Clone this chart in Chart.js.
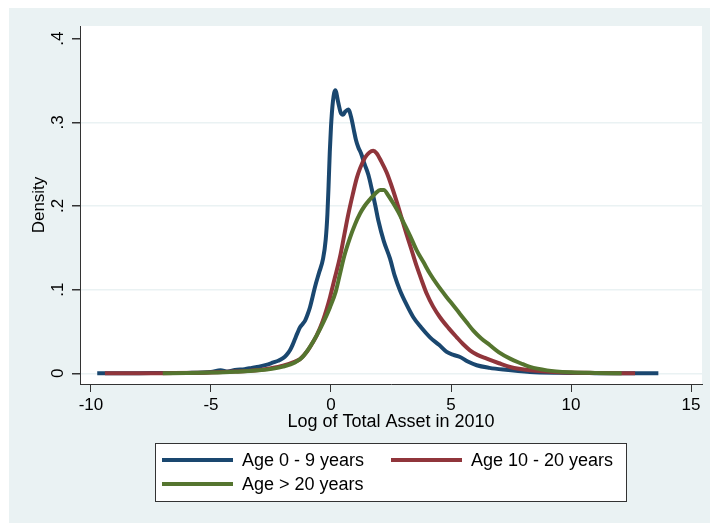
<!DOCTYPE html>
<html>
<head>
<meta charset="utf-8">
<script src="https://cdn.jsdelivr.net/npm/chart.js@4"></script>
<style>
  html, body { margin: 0; padding: 0; background: #ffffff; }
  canvas { display: block; }
</style>
</head>
<body>
<canvas id="chart" width="710" height="523"></canvas>
<script>
// series names for the legend
const seriesNames = ['Age 0 - 9 years', 'Age 10 - 20 years', 'Age > 20 years'];
const seriesColors = ['#1A476F', '#90353B', '#55752F'];

// Age 0 - 9 years
const xYoung = [-9.74, -8, -6, -5, -4.6, -4.3, -4.0, -3.6, -3.3, -3.0, -2.7, -2.4, -2.2, -2.0, -1.85, -1.71, -1.6, -1.5, -1.4, -1.29, -1.18, -1.08, -0.98, -0.875, -0.77, -0.67, -0.5, -0.33, -0.22, -0.15, -0.1, -0.05, 0.0, 0.08, 0.18, 0.3, 0.4, 0.5, 0.6, 0.72, 0.85, 0.95, 1.04, 1.14, 1.25, 1.4, 1.56, 1.7, 1.85, 1.97, 2.2, 2.46, 2.65, 2.875, 3.15, 3.43, 3.75, 4.125, 4.5, 4.82, 5.1, 5.375, 5.7, 6.07, 6.6, 7.18, 8.29, 9.5, 11, 13.64];
const yYoung = [0, 0.0002, 0.0005, 0.0015, 0.0035, 0.002, 0.004, 0.005, 0.0065, 0.008, 0.010, 0.013, 0.015, 0.018, 0.022, 0.0275, 0.034, 0.041, 0.048, 0.055, 0.059, 0.063, 0.070, 0.079, 0.091, 0.103, 0.12, 0.137, 0.16, 0.19, 0.225, 0.265, 0.295, 0.325, 0.3385, 0.324, 0.312, 0.309, 0.313, 0.3155, 0.305, 0.291, 0.279, 0.270, 0.263, 0.25, 0.237, 0.22, 0.2, 0.183, 0.158, 0.137, 0.117, 0.099, 0.082, 0.067, 0.055, 0.043, 0.034, 0.0255, 0.022, 0.0195, 0.014, 0.0096, 0.0065, 0.0044, 0.0016, 0.0006, 0.0002, 0];

// Age 10 - 20 years
const xMid = [-9.42, -7.05, -5, -4.0, -3.0, -2.5, -2.0, -1.5, -1.29, -1.0, -0.8, -0.6, -0.35, -0.2, -0.04, 0.15, 0.375, 0.55, 0.72, 0.9, 1.07, 1.21, 1.42, 1.6, 1.76, 1.9, 2.1, 2.32, 2.5, 2.74, 2.95, 3.15, 3.35, 3.57, 3.78, 3.99, 4.25, 4.54, 4.9, 5.24, 5.5, 5.79, 6.1, 6.49, 7.0, 7.46, 8.29, 9.5, 11, 12.67];
const yMid = [0, 0.0002, 0.0008, 0.002, 0.004, 0.006, 0.009, 0.014, 0.017, 0.026, 0.035, 0.045, 0.062, 0.075, 0.091, 0.113, 0.139, 0.165, 0.19, 0.213, 0.233, 0.245, 0.258, 0.264, 0.266, 0.263, 0.253, 0.24, 0.226, 0.205, 0.185, 0.166, 0.148, 0.128, 0.111, 0.095, 0.08, 0.067, 0.054, 0.043, 0.035, 0.0275, 0.022, 0.0175, 0.012, 0.0076, 0.0036, 0.0012, 0.0004, 0];

// Age > 20 years
const xOld = [-7.01, -6, -5, -4, -3, -2.4, -2.0, -1.5, -1.2, -0.875, -0.6, -0.3, -0.04, 0.2, 0.375, 0.55, 0.79, 1.0, 1.21, 1.4, 1.625, 1.85, 2.05, 2.2, 2.4, 2.6, 2.8, 3.01, 3.3, 3.57, 3.85, 4.125, 4.45, 4.82, 5.1, 5.375, 5.65, 5.93, 6.25, 6.625, 7.0, 7.46, 7.9, 8.29, 9, 10, 11, 12.11];
const yOld = [0, 0.0003, 0.0008, 0.0018, 0.0035, 0.0056, 0.008, 0.013, 0.019, 0.0315, 0.045, 0.062, 0.079, 0.098, 0.119, 0.14, 0.162, 0.178, 0.191, 0.2, 0.208, 0.215, 0.219, 0.219, 0.212, 0.203, 0.193, 0.181, 0.164, 0.147, 0.133, 0.119, 0.105, 0.091, 0.081, 0.071, 0.061, 0.051, 0.042, 0.0335, 0.025, 0.0175, 0.012, 0.0076, 0.0035, 0.0012, 0.0004, 0];

const xTicks = [-10, -5, 0, 5, 10, 15];
const yTicks = [0, 0.1, 0.2, 0.3, 0.4];
const yTickLabels = ['0', '.1', '.2', '.3', '.4'];

const FONT = 'Liberation Sans, Arial, sans-serif';
const BG = '#EAF2F3';
const AXIS = '#333333';

function pts(xs, ys) {
  return xs.map((x, i) => ({ x: x, y: ys[i] }));
}

// drawn in reverse order, so green ends up on top
const seriesData = [pts(xYoung, yYoung), pts(xMid, yMid), pts(xOld, yOld)];
let datasets = [];
for (let i = 2; i >= 0; i--) {
  datasets.push({
    label: seriesNames[i],
    data: seriesData[i],
    borderColor: seriesColors[i],
    backgroundColor: seriesColors[i],
    borderWidth: 4,
    pointRadius: 0,
    fill: false,
    cubicInterpolationMode: 'monotone'
  });
}

const backgroundPlugin = {
  id: 'stataBg',
  beforeDraw(chart) {
    const c = chart.ctx;
    const a = chart.chartArea;
    c.save();
    c.fillStyle = '#ffffff';
    c.fillRect(0, 0, chart.width, chart.height);
    c.fillStyle = BG;
    c.fillRect(9, 8, chart.width - 9, chart.height - 8);
    c.fillStyle = '#ffffff';
    c.fillRect(a.left, a.top, a.right - a.left, a.bottom - a.top);
    c.restore();
  }
};

const legendPlugin = {
  id: 'boxLegend',
  afterDraw(chart) {
    const c = chart.ctx;
    c.save();
    c.fillStyle = '#ffffff';
    c.fillRect(155.5, 443.5, 471, 58);
    c.strokeStyle = AXIS;
    c.lineWidth = 1;
    c.strokeRect(155.5, 443.5, 471, 58);
    const slots = [[162, 460], [391, 460], [162, 484]];
    c.font = '18px ' + FONT;
    c.textBaseline = 'middle';
    c.textAlign = 'left';
    for (let i = 0; i < seriesNames.length; i++) {
      const [sx, sy] = slots[i];
      c.strokeStyle = seriesColors[i];
      c.lineWidth = 4;
      c.beginPath();
      c.moveTo(sx, sy);
      c.lineTo(sx + 71, sy);
      c.stroke();
      c.fillStyle = '#000000';
      c.fillText(seriesNames[i], sx + 80, sy + 1);
    }
    c.restore();
  }
};

new Chart(document.getElementById('chart').getContext('2d'), {
  type: 'line',
  data: { datasets: datasets },
  plugins: [backgroundPlugin, legendPlugin],
  options: {
    responsive: false,
    animation: false,
    layout: { padding: { left: 9, top: 26, right: 8, bottom: 90 } },
    plugins: {
      legend: { display: false },
      tooltip: { enabled: false }
    },
    scales: {
      x: {
        type: 'linear',
        min: -10.458,
        max: 15.458,
        afterBuildTicks: (s) => { s.ticks = xTicks.map(v => ({ value: v })); },
        afterFit: (s) => { s.height = 49; },
        border: { display: true, color: AXIS, width: 1 },
        grid: { drawOnChartArea: false, tickLength: 8, color: AXIS, tickColor: AXIS },
        ticks: { color: '#000', font: { family: FONT, size: 17 }, padding: 3, maxRotation: 0, minRotation: 0 },
        title: {
          display: true,
          text: 'Log of Total Asset in 2010',
          color: '#000',
          font: { family: FONT, size: 18 },
          padding: { top: 0, bottom: 0 }
        }
      },
      y: {
        type: 'linear',
        min: -0.0128,
        max: 0.4152,
        afterBuildTicks: (s) => { s.ticks = yTicks.map(v => ({ value: v })); },
        afterFit: (s) => { s.width = 71; },
        border: { display: true, color: AXIS, width: 1 },
        grid: {
          drawOnChartArea: true,
          tickLength: 8,
          color: (ctx) => (ctx.tick && ctx.tick.value < 0.35 ? BG : 'rgba(0,0,0,0)'),
          tickColor: AXIS,
          lineWidth: 1.5
        },
        ticks: {
          color: '#000',
          font: { family: FONT, size: 17 },
          padding: 7,
          minRotation: 90,
          maxRotation: 90,
          crossAlign: 'center',
          callback: (v, i) => yTickLabels[i]
        },
        title: {
          display: true,
          text: 'Density',
          color: '#000',
          font: { family: FONT, size: 17 },
          padding: { top: 20, bottom: 0 }
        }
      }
    }
  }
});
</script>
</body>
</html>
